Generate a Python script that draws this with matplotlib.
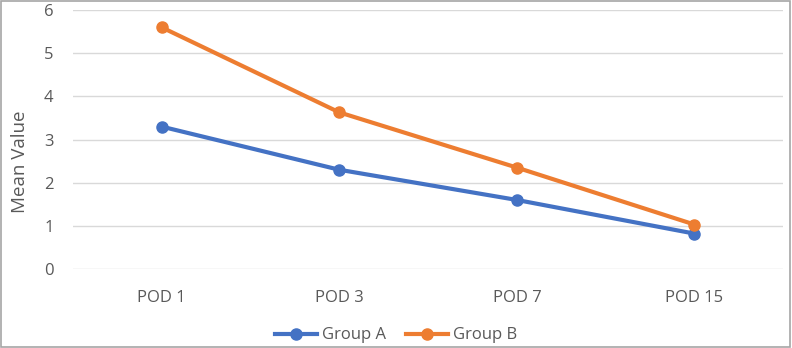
import matplotlib.pyplot as plt
from matplotlib.patches import Rectangle

categories = ["POD 1", "POD 3", "POD 7", "POD 15"]
group_a = [3.3, 2.3, 1.6, 0.82]
group_b = [5.6, 3.63, 2.35, 1.03]

plt.rcParams['font.family'] = ['Open Sans', 'DejaVu Sans']
text_color = "#595959"

fig = plt.figure(figsize=(7.92, 3.48), dpi=100)
ax = fig.add_axes([0.092, 0.227, 0.897, 0.744])

x = range(len(categories))
ax.plot(x, group_a, color="#4472C4", linewidth=3, marker="o", markersize=8, label="Group A", zorder=3)
ax.plot(x, group_b, color="#ED7D31", linewidth=3, marker="o", markersize=8, label="Group B", zorder=3)

ax.set_xlim(-0.5, 3.5)
ax.set_ylim(0, 6)
ax.set_yticks(range(0, 7))
ax.set_xticks(list(x))
ax.set_xticklabels(categories)

# gridlines only, no spines
ax.grid(axis="y", color="#D9D9D9", linewidth=1)
ax.set_axisbelow(True)
for s in ax.spines.values():
    s.set_visible(False)
ax.tick_params(axis="both", length=0, labelsize=12, colors=text_color)
ax.tick_params(axis="x", pad=15)
ax.tick_params(axis="y", pad=14)

# axis title sits a bit below the middle of the plot area
ax.set_ylabel("Mean Value", fontsize=13.5, color=text_color)
ax.yaxis.set_label_coords(-0.062, 0.415)

fig.legend(loc="lower center", bbox_to_anchor=(0.5, -0.03), ncol=2, frameon=False,
           fontsize=12, labelcolor=text_color, handlelength=2.5, columnspacing=1.2,
           handletextpad=0.3)

# chart border
fig.patches.append(Rectangle((0.001, 0.002), 0.997, 0.996, transform=fig.transFigure,
                             fill=False, edgecolor="#A6A6A6", linewidth=1.2))

fig.savefig("out.png", dpi=100)
